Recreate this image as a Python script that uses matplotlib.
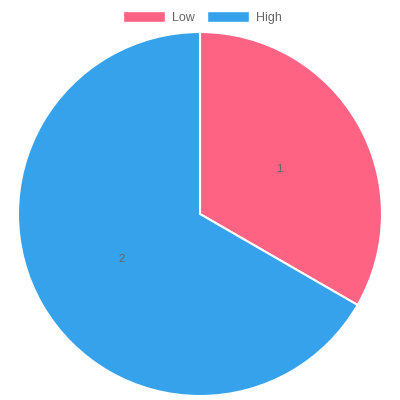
import matplotlib
matplotlib.use('Agg')
import matplotlib.pyplot as plt
from matplotlib.patches import Patch

plt.rcParams['font.family'] = ['Liberation Sans', 'DejaVu Sans']

labels = ['Low', 'High']
values = [1, 2]
colors = ['#FF6384', '#36A2EB']

fig = plt.figure(figsize=(4, 4), dpi=100)
ax = fig.add_axes([0, 0, 1, 1])

wedges, texts = ax.pie(values, colors=colors, startangle=90, counterclock=False,
                       center=(200, 186), radius=182, labels=[str(v) for v in values],
                       labeldistance=0.5, frame=True,
                       wedgeprops=dict(edgecolor='white', linewidth=1.5),
                       textprops=dict(fontsize=8, color='#666666'))
for t in texts:
    t.set_ha('center')
    t.set_va('center')
ax.set_xlim(0, 400)
ax.set_ylim(0, 400)
ax.set_aspect('equal')
ax.axis('off')

handles = [Patch(facecolor=c, edgecolor='white', label=l) for c, l in zip(colors, labels)]
fig.legend(handles=handles, loc='upper center', bbox_to_anchor=(0.507, 1.0), ncol=2,
           frameon=False, fontsize=9, labelcolor='#666666',
           handlelength=3.3, handleheight=0.9, handletextpad=0.6, columnspacing=1.0)

fig.savefig('out.png', dpi=100)
